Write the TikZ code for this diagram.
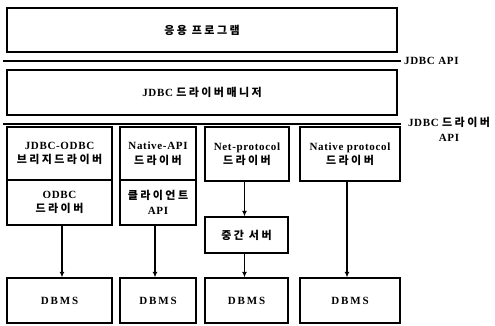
\documentclass[tikz,border=0pt]{standalone}
\usepackage{fontspec}
\setmainfont{Liberation Serif}[LetterSpace=6]
\newfontfamily\kr{Noto Sans CJK KR}[LetterSpace=22]
\usetikzlibrary{arrows.meta}
\newcommand{\K}[1]{{\kr\bfseries #1}}
\tikzset{
  box/.style={draw, line width=1.3pt, rectangle, inner sep=0pt, align=center,
    font=\bfseries\fontsize{11}{14.5}\selectfont},
  sep/.style={line width=2pt},
  arr/.style={line width=1.3pt, -{Latex[length=5.5pt,width=5pt]}},
  lbl/.style={font=\bfseries\fontsize{11}{15}\selectfont, inner sep=0pt, align=center}
}
\begin{document}
\begin{tikzpicture}[x=1pt,y=-1pt]
\useasboundingbox (0,0) rectangle (495,326);
% top layers
\node[box, minimum width=390pt, minimum height=44pt] (app) at (202,30) {\K{응용 프로그램}};
\node[box, minimum width=390pt, minimum height=45pt] (mgr) at (202,92.5) {JDBC \K{드라이버매니저}};
% separator lines
\coordinate (s1a) at (3,61); \coordinate (s1b) at (401,61);
\coordinate (s2a) at (3,124); \coordinate (s2b) at (401,124);
\draw[sep] (s1a) -- (s1b);
\draw[sep] (s2a) -- (s2b);
\node[lbl, anchor=west] (api1) at (404,61) {JDBC API};
\node[lbl] (api2) at (449,129) {JDBC \K{드라이버}\\API};
% column 1
\node[box, minimum width=105pt, minimum height=53pt] (c1t) at (59.5,153.5) {JDBC-ODBC\\\K{브리지드라이버}};
\node[box, minimum width=105pt, minimum height=45pt] (c1b) at (59.5,202.5) {ODBC\\\K{드라이버}};
% column 2
\node[box, minimum width=76pt, minimum height=53pt] (c2t) at (158,153.5) {Native-API\\\K{드라이버}};
\node[box, minimum width=76pt, minimum height=45pt] (c2b) at (158,202.5) {\K{클라이언트}\\API};
% column 3
\node[box, minimum width=84pt, minimum height=54pt] (c3t) at (247,154) {Net-protocol\\\K{드라이버}};
\node[box, minimum width=83pt, minimum height=36pt] (c3m) at (246.5,235) {\K{중간 서버}};
% column 4
\node[box, minimum width=100pt, minimum height=54pt] (c4t) at (350,154) {Native protocol\\\K{드라이버}};
% DBMS row
\node[box, minimum width=105pt, minimum height=45pt] (d1) at (59.5,300.5) {D\,B\,M\,S};
\node[box, minimum width=76pt, minimum height=45pt] (d2) at (158,300.5) {D\,B\,M\,S};
\node[box, minimum width=83pt, minimum height=45pt] (d3) at (246.5,300.5) {D\,B\,M\,S};
\node[box, minimum width=100pt, minimum height=45pt] (d4) at (350,300.5) {D\,B\,M\,S};
% arrows
\draw[arr] ([xshift=2.5pt]c1b.south) -- ([xshift=2.5pt]d1.north);
\draw[arr] ([xshift=-3pt]c2b.south) -- ([xshift=-3pt]d2.north);
\draw[arr] ([xshift=-2.5pt]c3t.south) -- ([xshift=-2pt]c3m.north);
\draw[arr] ([xshift=-2pt]c3m.south) -- ([xshift=-2pt]d3.north);
\draw[arr] ([xshift=-3pt]c4t.south) -- ([xshift=-3pt]d4.north);
\end{tikzpicture}
\end{document}
